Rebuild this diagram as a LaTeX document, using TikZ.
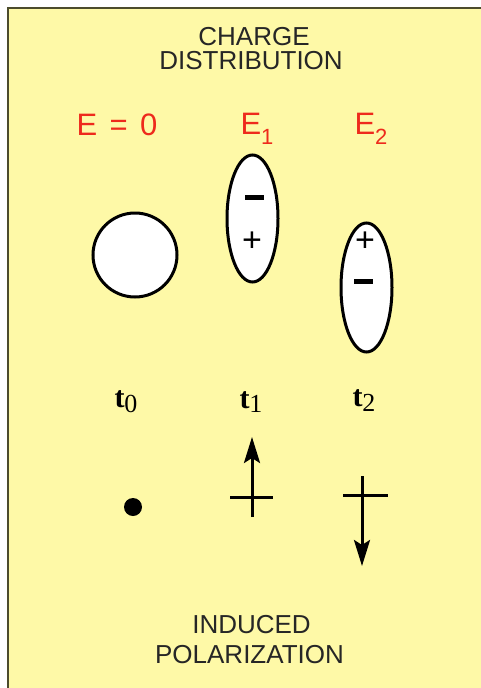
\documentclass[tikz,border=0pt]{standalone}
\usepackage{fontspec}
\setmainfont{Liberation Sans}
\newfontfamily\timefont{Liberation Serif}
\usepackage{xcolor}
\usetikzlibrary{arrows.meta,shapes.geometric}
\definecolor{paneYellow}{HTML}{FEF9A7}
\definecolor{paneEdge}{HTML}{4C4C2C}
\definecolor{fieldRed}{HTML}{EE2A1C}
\newcommand{\lowsub}[3]{\raisebox{-#1}{\fontsize{#2}{#2}\selectfont\mdseries #3}}

\begin{document}
\begin{tikzpicture}[x=1pt, y=-1pt,
        title/.style={anchor=base, font=\fontsize{26}{26}\selectfont, text=black!85, inner sep=0pt},
        field/.style={anchor=base, font=\fontsize{31}{31}\selectfont, text=fieldRed, inner sep=0pt},
        atom/.style={draw, line width=3pt, fill=white, inner sep=0pt},
        minus/.style={fill=black, minimum width=19pt, minimum height=5.5pt, inner sep=0pt},
        plus/.style={font=\fontsize{34}{34}\selectfont\mdseries, inner sep=0pt},
        time/.style={anchor=base, font=\fontsize{30}{30}\selectfont\timefont\bfseries, inner sep=0pt},
        pol/.style={-{Stealth[length=26pt,width=16pt,inset=5pt]}, line width=3pt},
        bar/.style={line width=3pt}
    ]
        \useasboundingbox (0,0) rectangle (481,688);
        \fill[paneYellow] (8,8) rectangle (481,688);
        \draw[paneEdge, line width=2pt] (8,688) -- (8,8) -- (481,8);

        \node[title] (charge) at (254,45) {CHARGE};
        \node[title] (distrib) at (251,69.5) {DISTRIBUTION};

        \node[field] (ezero) at (117,135) {E\hspace{0.4em}=\hspace{0.4em}0};
        \node[field] (efirst) at (257,134) {E\lowsub{10pt}{22}{1}};
        \node[field] (esecond) at (371,134) {E\lowsub{10pt}{22}{2}};

        \node[atom, circle, minimum size=84pt] (atom0) at (135,255) {};
        \node[atom, ellipse, minimum width=51pt, minimum height=127pt] (atom1) at (252.5,218.5) {};
        \node[atom, ellipse, minimum width=51pt, minimum height=129pt] (atom2) at (366.5,287.5) {};

        \node[minus] (neg1) at (254,197.5) {};
        \node[plus] (pos1) at (252,242) {+};
        \node[plus] (pos2) at (365,242) {+};
        \node[minus] (neg2) at (363,281.5) {};

        \node[time] (tzero) at (126,407) {t\lowsub{5pt}{26}{0}};
        \node[time] (tone) at (251,408) {t\lowsub{4pt}{26}{1}};
        \node[time] (ttwo) at (364,406) {t\lowsub{5pt}{26}{2}};

        \node[circle, fill=black, minimum size=18pt, inner sep=0pt] (core) at (133,507) {};

        \coordinate (tail1) at (252,517);
        \coordinate (head1) at (252,437);
        \coordinate (mid1) at (252,497);
        \draw[pol] (tail1) -- (head1);
        \draw[bar] ([xshift=-22pt]mid1) -- ([xshift=21pt]mid1);

        \coordinate (tail2) at (362,476);
        \coordinate (head2) at (362,566);
        \coordinate (mid2) at (362,495);
        \draw[pol] (tail2) -- (head2);
        \draw[bar] ([xshift=-19pt]mid2) -- ([xshift=26pt]mid2);

        \node[title] (induced) at (251.5,633) {INDUCED};
        \node[title] (polar) at (249.5,663) {POLARIZATION};
    \end{tikzpicture}
\end{document}
